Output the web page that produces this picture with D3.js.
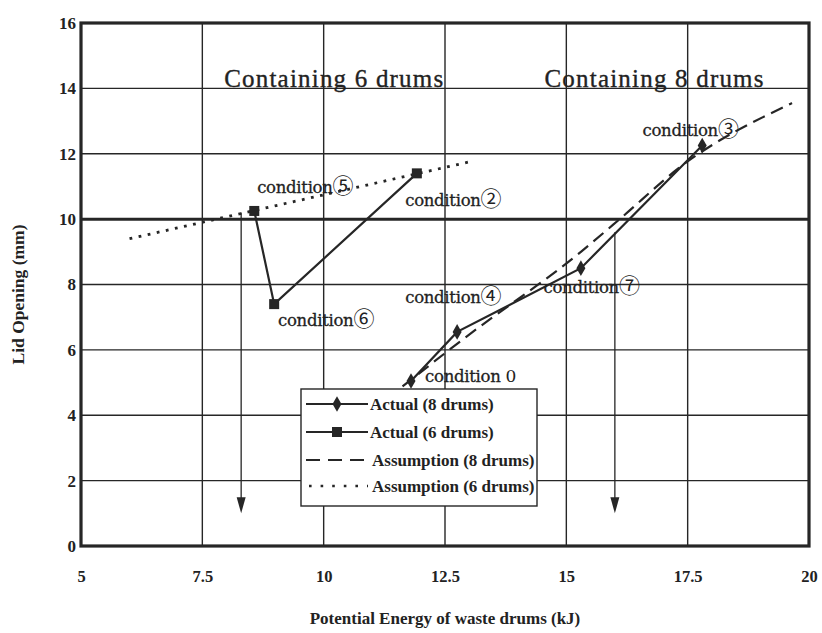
<!DOCTYPE html>
<html>
<head>
<meta charset="utf-8">
<script src="https://cdn.jsdelivr.net/npm/d3@7/dist/d3.min.js"></script>
<style>
  html, body { margin: 0; padding: 0; background: #fff; }
  svg { display: block; }
  text { font-family: "Liberation Serif", "Times New Roman", serif; fill: #222; }
  .circ { font-family: "Noto Sans CJK JP", "DejaVu Sans", sans-serif; }
</style>
</head>
<body>
<svg id="chart" width="822" height="633"></svg>
<script>
// ---- data ----
const xTicks = [5, 7.5, 10, 12.5, 15, 17.5, 20];
const yTicks = [0, 2, 4, 6, 8, 10, 12, 14, 16];

const actual8X = [11.8, 12.75, 15.3, 17.8];
const actual8Y = [5.05, 6.55, 8.5, 12.25];

const actual6X = [8.57, 8.98, 11.92];
const actual6Y = [10.25, 7.4, 11.4];

const assume8X = [11.3, 12.85, 15.3, 16.1, 17.35, 19.65];
const assume8Y = [4.5, 6.3, 9.0, 10.0, 11.6, 13.55];

const assume6X = [6.0, 13.0];
const assume6Y = [9.4, 11.75];

const arrowX = [8.3, 16.0];
const arrowFromY = [10.2, 9.6];
const arrowToY = [1.0, 1.0];

const regionText = ["Containing 6 drums", "Containing 8 drums"];
const regionX = [7.95, 14.55];
const regionY = [14.3, 14.3];

const condWord = ["condition", "condition", "condition", "condition", "condition", "condition", "condition "];
const condMark = ["\u2464", "\u2465", "\u2461", "\u2463", "\u2466", "\u2462", "0"];
const condX = [8.63, 9.06, 11.68, 11.68, 14.53, 16.57, 12.09];
const condY = [10.98, 6.91, 10.58, 7.62, 7.92, 12.73, 5.2];

const legendLabels = ["Actual (8 drums)", "Actual (6 drums)", "Assumption (8 drums)", "Assumption (6 drums)"];

// ---- layout ----
const svg = d3.select("#chart");
const x = d3.scaleLinear().domain([5, 20]).range([81, 809]);
const y = d3.scaleLinear().domain([0, 16]).range([546, 23]);
const ink = "#262626";

// grid
const grid = svg.append("g");
grid.selectAll("line.v").data(xTicks.slice(1, -1)).join("line")
  .attr("x1", d => x(d)).attr("x2", d => x(d))
  .attr("y1", y(0)).attr("y2", y(16))
  .attr("stroke", ink).attr("stroke-width", 1.4);
grid.selectAll("line.h").data(yTicks.slice(1, -1)).join("line")
  .attr("x1", x(5)).attr("x2", x(20))
  .attr("y1", d => y(d)).attr("y2", d => y(d))
  .attr("stroke", ink).attr("stroke-width", d => d === 10 ? 3 : 1.4);

// axes (labels only; frame drawn separately)
const xAxis = d3.axisBottom(x).tickValues(xTicks).tickSize(0).tickPadding(24)
  .tickFormat(d => String(d));
const gx = svg.append("g").attr("transform", `translate(0,${y(0)})`).call(xAxis);
gx.select(".domain").remove();
gx.selectAll("text").style("font-family", "Liberation Serif, serif")
  .style("font-size", "16.5px").style("font-weight", "bold").attr("fill", ink);

const yAxis = d3.axisLeft(y).tickValues(yTicks).tickSize(0).tickPadding(5);
const gy = svg.append("g").attr("transform", `translate(${x(5)},0)`).call(yAxis);
gy.select(".domain").remove();
gy.selectAll("text").style("font-family", "Liberation Serif, serif")
  .style("font-size", "17px").style("font-weight", "bold").attr("fill", ink);

// frame
svg.append("rect").attr("x", x(5)).attr("y", y(16))
  .attr("width", x(20) - x(5)).attr("height", y(0) - y(16))
  .attr("fill", "none").attr("stroke", ink).attr("stroke-width", 3.2);

// axis titles
svg.append("text").attr("x", (x(5) + x(20)) / 2).attr("y", 624)
  .attr("text-anchor", "middle").style("font-size", "17px").style("font-weight", "bold")
  .text("Potential Energy of waste drums (kJ)");
svg.append("text").attr("transform", `translate(24,${(y(0) + y(16)) / 2 + 10}) rotate(-90)`)
  .attr("text-anchor", "middle").style("font-size", "17.5px").style("font-weight", "bold")
  .text("Lid Opening (mm)");

// lines
const line = d3.line().x(d => x(d[0])).y(d => y(d[1]));
const zip = (a, b) => a.map((v, i) => [v, b[i]]);

const plot = svg.append("g");
plot.append("path").datum(zip(assume6X, assume6Y)).attr("d", line)
  .attr("fill", "none").attr("stroke", ink).attr("stroke-width", 2.8)
  .attr("stroke-dasharray", "2.8,6.5");
plot.append("path").datum(zip(assume8X, assume8Y)).attr("d", d3.line().curve(d3.curveMonotoneX).x(d => x(d[0])).y(d => y(d[1])))
  .attr("fill", "none").attr("stroke", ink).attr("stroke-width", 2.2)
  .attr("stroke-dasharray", "13,7");
plot.append("path").datum(zip(actual8X, actual8Y)).attr("d", line)
  .attr("fill", "none").attr("stroke", ink).attr("stroke-width", 2.2);
plot.append("path").datum(zip(actual6X, actual6Y)).attr("d", line)
  .attr("fill", "none").attr("stroke", ink).attr("stroke-width", 2.2);

// markers
plot.selectAll("path.dia").data(zip(actual8X, actual8Y)).join("path")
  .attr("d", d3.symbol().type(d3.symbolDiamond).size(70))
  .attr("transform", d => `translate(${x(d[0])},${y(d[1])})`)
  .attr("fill", ink);
plot.selectAll("rect.sq").data(zip(actual6X, actual6Y)).join("rect")
  .attr("x", d => x(d[0]) - 5).attr("y", d => y(d[1]) - 5)
  .attr("width", 10).attr("height", 10).attr("fill", ink);

// arrows
arrowX.forEach((ax, i) => {
  const px = x(ax), y0 = y(arrowFromY[i]), y1 = y(arrowToY[i]);
  plot.append("line").attr("x1", px).attr("x2", px).attr("y1", y0).attr("y2", y1 - 14)
    .attr("stroke", ink).attr("stroke-width", 1.3);
  plot.append("path").attr("d", `M${px - 4.5},${y1 - 16} L${px + 4.5},${y1 - 16} L${px},${y1} Z`)
    .attr("fill", ink);
});

// region annotations
svg.append("g").selectAll("text").data(regionText).join("text")
  .attr("x", (d, i) => x(regionX[i])).attr("y", (d, i) => y(regionY[i]))
  .attr("dy", "0.35em")
  .style("font-size", "25px").style("letter-spacing", "1.2px")
  .attr("stroke", "#222").attr("stroke-width", 0.35)
  .text(d => d);

// condition labels
const cg = svg.append("g").selectAll("text").data(condWord).join("text")
  .attr("x", (d, i) => x(condX[i])).attr("y", (d, i) => y(condY[i]))
  .attr("dy", "0.35em")
  .style("font-family", "DejaVu Serif, serif")
  .style("font-size", "16.5px").style("letter-spacing", "-0.3px")
  .attr("stroke", "#222").attr("stroke-width", 0.3);
cg.append("tspan").text(d => d);
cg.append("tspan").attr("class", (d, i) => condMark[i] === "0" ? null : "circ")
  .style("font-size", (d, i) => condMark[i] === "0" ? "17px" : "21px")
  .attr("stroke-width", 0)
  .text((d, i) => condMark[i]);

// legend
const lg = svg.append("g");
lg.append("rect").attr("x", 301).attr("y", 389).attr("width", 236).attr("height", 117)
  .attr("fill", "#fff").attr("stroke", ink).attr("stroke-width", 1.4);
const rowY = [404, 432, 460, 486];
legendLabels.forEach((t, i) => {
  const ly = rowY[i];
  const l = lg.append("line").attr("x1", 306).attr("x2", 368).attr("y1", ly).attr("y2", ly)
    .attr("stroke", ink);
  if (i < 2) l.attr("stroke-width", 2.2);
  if (i === 2) l.attr("stroke-width", 2.2).attr("stroke-dasharray", "14,8");
  if (i === 3) l.attr("x1", 309).attr("stroke-width", 2.6).attr("stroke-dasharray", "2.6,9");
  if (i === 0) lg.append("path").attr("d", d3.symbol().type(d3.symbolDiamond).size(70))
    .attr("transform", `translate(337,${ly})`).attr("fill", ink);
  if (i === 1) lg.append("rect").attr("x", 332).attr("y", ly - 5).attr("width", 10).attr("height", 10).attr("fill", ink);
  lg.append("text").attr("x", i < 2 ? 370 : 372).attr("y", ly).attr("dy", "0.35em")
    .style("font-size", "17px").style("font-weight", "bold").text(t);
});
</script>
</body>
</html>
